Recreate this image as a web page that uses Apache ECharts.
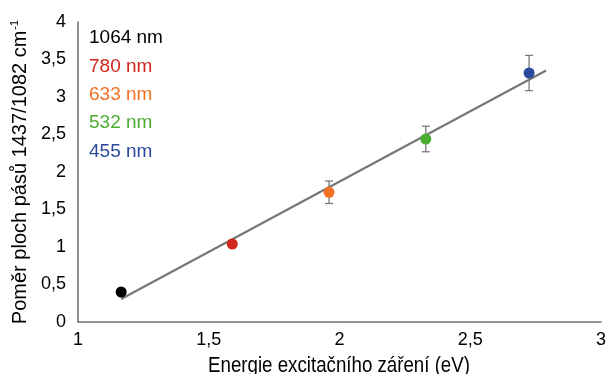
<!DOCTYPE html>
<html>
<head>
<meta charset="utf-8">
<script src="https://cdn.jsdelivr.net/npm/echarts@6/dist/echarts.min.js"></script>
<style>
  html, body { margin: 0; padding: 0; background: #fff; }
  #chart { width: 609px; height: 374px; }
</style>
</head>
<body>
<div id="chart"></div>
<script>
// Excitation wavelengths, their photon energies and measured band-area ratios
const wavelengths = ['1064 nm', '780 nm', '633 nm', '532 nm', '455 nm'];
const energies = [1.165, 1.59, 1.96, 2.33, 2.725];
const ratios = [0.40, 1.04, 1.73, 2.44, 3.32];
const ratioErrors = [0, 0, 0.15, 0.17, 0.235];
const colors = ['#000000', '#d0261d', '#f07024', '#4aad32', '#2c4a9c'];
// Extent of the linear trend line along the energy axis
const trendRange = [1.165, 2.79];
const xTicks = [1, 1.5, 2, 2.5, 3];
const yTicks = [0, 0.5, 1, 1.5, 2, 2.5, 3, 3.5, 4];
const xTitle = 'Energie excitačního záření (eV)';

// Least-squares fit of ratio vs. energy
function linearFit(xs, ys) {
  const n = xs.length;
  const mx = xs.reduce((a, b) => a + b, 0) / n;
  const my = ys.reduce((a, b) => a + b, 0) / n;
  let sxy = 0, sxx = 0;
  for (let i = 0; i < n; i++) {
    sxy += (xs[i] - mx) * (ys[i] - my);
    sxx += (xs[i] - mx) * (xs[i] - mx);
  }
  const slope = sxy / sxx;
  return { slope, intercept: my - slope * mx };
}
const fit = linearFit(energies, ratios);
const trendData = trendRange.map(x => [x, fit.slope * x + fit.intercept]);

const fmt = v => String(v).replace('.', ',');
const FONT = '"Liberation Sans", Arial, sans-serif';

const chart = echarts.init(document.getElementById('chart'), null, { renderer: 'canvas' });

const pointSeries = wavelengths.map((name, i) => ({
  name,
  type: 'scatter',
  symbol: 'circle',
  symbolSize: 11,
  z: 5,
  itemStyle: { color: colors[i], opacity: 1 },
  data: [[energies[i], ratios[i]]]
}));

chart.setOption({
  animation: false,
  backgroundColor: '#ffffff',
  grid: { left: 78, right: 8, top: 22, bottom: 52, containLabel: false, outerBoundsMode: 'none' },
  legend: {
    orient: 'vertical',
    left: 84,
    top: 24,
    padding: 0,
    itemWidth: 0,
    itemHeight: 0,
    itemGap: 0,
    selectedMode: false,
    textStyle: { fontFamily: FONT, fontSize: 19, lineHeight: 28.3 },
    data: wavelengths.map((name, i) => ({ name, icon: 'circle', textStyle: { color: colors[i] } }))
  },
  // x-axis title, drawn slightly condensed under the plot
  graphic: [{
    type: 'text',
    x: 339, y: 366,
    scaleX: 0.85,
    style: {
      text: xTitle,
      fontFamily: FONT, fontSize: 22, fill: '#000',
      align: 'center', verticalAlign: 'middle'
    }
  }],
  xAxis: {
    type: 'value',
    min: 1, max: 3, interval: 0.5,
    axisLine: { show: true, onZero: false, lineStyle: { color: '#6e6e6e', width: 1.5 } },
    axisTick: { show: false },
    splitLine: { show: false },
    axisLabel: {
      fontFamily: FONT, fontSize: 18, color: '#000', margin: 9,
      formatter: v => xTicks.includes(v) ? fmt(v) : ''
    }
  },
  yAxis: {
    type: 'value',
    min: 0, max: 4, interval: 0.5,
    name: '{main|Poměr ploch pásů 1437/1082 cm}{sup|-1}',
    nameLocation: 'middle',
    nameGap: 47,
    nameRotate: 90,
    nameTextStyle: {
      fontFamily: FONT, fontSize: 20, color: '#000',
      rich: {
        main: { fontFamily: FONT, fontSize: 20, color: '#000' },
        sup: { fontFamily: FONT, fontSize: 11, color: '#000', verticalAlign: 'top', padding: [0, 0, 10, 1] }
      }
    },
    axisLine: { show: true, lineStyle: { color: '#6e6e6e', width: 1.5 } },
    axisTick: { show: false },
    splitLine: { show: false },
    axisLabel: {
      fontFamily: FONT, fontSize: 18, color: '#000', margin: 12,
      formatter: v => yTicks.includes(v) ? fmt(v) : ''
    }
  },
  series: [
    {
      name: 'trend',
      type: 'line',
      data: trendData,
      symbol: 'none',
      z: 3,
      lineStyle: { color: '#777777', width: 2.2 }
    },
    {
      name: 'errors',
      type: 'custom',
      z: 4,
      data: energies.map((e, i) => [e, ratios[i] - ratioErrors[i], ratios[i] + ratioErrors[i]]),
      renderItem: (params, api) => {
        const x = api.value(0);
        const lo = api.coord([x, api.value(1)]);
        const hi = api.coord([x, api.value(2)]);
        if (Math.abs(lo[1] - hi[1]) < 1) return null;
        const cap = 4;
        const style = { stroke: '#7a7a7a', lineWidth: 1.3, fill: null };
        return {
          type: 'group',
          children: [
            { type: 'line', shape: { x1: lo[0], y1: lo[1], x2: hi[0], y2: hi[1] }, style },
            { type: 'line', shape: { x1: lo[0] - cap, y1: lo[1], x2: lo[0] + cap, y2: lo[1] }, style },
            { type: 'line', shape: { x1: hi[0] - cap, y1: hi[1], x2: hi[0] + cap, y2: hi[1] }, style }
          ]
        };
      }
    },
    ...pointSeries
  ]
});
</script>
</body>
</html>
